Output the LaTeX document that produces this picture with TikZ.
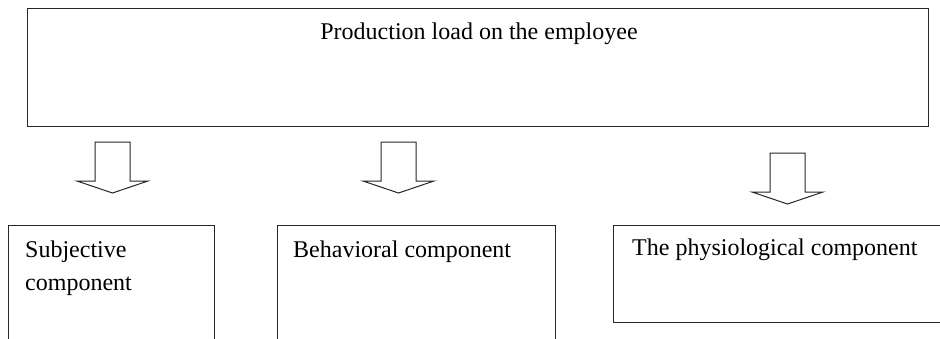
\documentclass[tikz,border=0pt]{standalone}
\usepackage{fontspec}
\setmainfont{Liberation Serif}
\begin{document}
\begin{tikzpicture}[x=1pt,y=-1pt,
  frame/.style={draw=black!85,line width=1pt},
  lbl/.style={inner sep=0pt,anchor=base west,font=\fontsize{24}{33}\selectfont},
  blockarrow/.pic={\draw[frame,line join=miter,fill=white]
     (-17.5,0) -- (17.5,0) -- (17.5,39) -- (35.5,39) -- (0,51) -- (-35.5,39) -- (-17.5,39) -- cycle;}]
\useasboundingbox (0,0) rectangle (940,338);
% top box
\node[frame,inner sep=0pt,minimum width=901pt,minimum height=118pt] (topbox) at (477.5,67) {};
\node[lbl,anchor=base] (toptext) at (479,39) {Production load on the employee};
% arrows
\pic at (112.5,142) {blockarrow};
\pic at (398.5,142) {blockarrow};
\pic at (787.5,153) {blockarrow};
% lower boxes
\draw[frame] (8,340) -- (8,225) -- (214,225) -- (214,340);
\node[lbl] (subj1) at (25,257) {Subjective};
\node[lbl] (subj2) at (25,290) {component};
\draw[frame] (277,340) -- (277,225) -- (555,225) -- (555,340);
\node[lbl] (behav) at (293,257) {Behavioral component};
\draw[frame] (613,225) rectangle (950,322);
\node[lbl] (phys) at (632,255) {The physiological component};
\end{tikzpicture}
\end{document}
